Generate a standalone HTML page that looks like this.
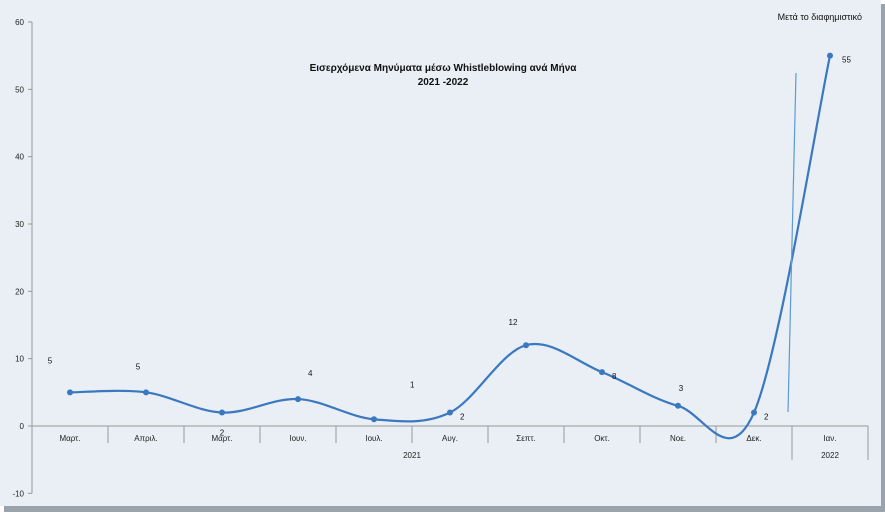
<!DOCTYPE html>
<html><head><meta charset="utf-8"><style>
html,body{margin:0;padding:0;background:#fff}
svg{display:block;font-family:"Liberation Sans",sans-serif}
</style></head><body>
<svg width="885" height="512">
<rect x="4" y="4" width="881" height="508" fill="#9aa3ab"/>
<rect x="0" y="0" width="881" height="506" fill="#e9eff5"/>
<g id="axes"></g>
<g id="marks"></g>
<text x="443" y="71" text-anchor="middle" font-size="10" font-weight="bold" fill="#111">Εισερχόμενα Μηνύματα μέσω Whistleblowing ανά Μήνα</text>
<text x="443" y="85" text-anchor="middle" font-size="10" font-weight="bold" fill="#111">2021 -2022</text>
<text x="862" y="20" text-anchor="end" font-size="9" fill="#111">Μετά το διαφημιστικό</text>
<line x1="796" y1="73" x2="788" y2="412" stroke="#5b9bd5" stroke-width="1.2"/>
</svg>
<script>
const categories=["Μαρτ.","Απριλ.","Μαρτ.","Ιουν.","Ιουλ.","Αυγ.","Σεπτ.","Οκτ.","Νοε.","Δεκ.","Ιαν."];
const values=[5,5,2,4,1,2,12,8,3,2,55];
const yTicks=[-10,0,10,20,30,40,50,60];
const years=["2021","2022"];
const yearSpans=[10,1];
const labelOffsets=[[-20,-32],[-8,-26],[0,20],[10,-26],[36,-35],[10,4],[-13,-23],[10,4],[3,-18],[10,4],[12,4]];
const NS="http://www.w3.org/2000/svg";
const x0=32,x1=868,y60=22,y0=426;
const bw=(x1-x0)/categories.length;
const X=i=>x0+bw*(i+0.5);
const Y=v=>y0-(v)*(y0-y60)/60;
function mk(t,a,p){const e=document.createElementNS(NS,t);for(const k in a)e.setAttribute(k,a[k]);p.appendChild(e);return e;}
const ax=document.getElementById('axes'),mg=document.getElementById('marks');
let e=mk('line',{x1:x0,y1:Y(60),x2:x0,y2:Y(-10),stroke:'#999'},ax);


yTicks.forEach(t=>{
 let l=mk('line',{x1:x0-4,y1:Y(t),x2:x0,y2:Y(t),stroke:'#999'},ax);
 
 
 let tx=mk('text',{x:x0-8,y:Y(t)+3,'text-anchor':'end','font-size':8,fill:'#222'},ax);tx.textContent=t;
 
 
});
e=mk('line',{x1:x0,y1:y0,x2:x1,y2:y0,stroke:'#999'},ax);


for(let i=0;i<=categories.length;i++){
 const xx=x0+bw*i;
 if(i==0)continue;
 let l=mk('line',{x1:xx,y1:y0,x2:xx,y2:443,stroke:'#999'},ax);
 
 
}
categories.forEach((c,i)=>{
 let t=mk('text',{x:X(i),y:441,'text-anchor':'middle','font-size':8,fill:'#222'},ax);t.textContent=c;
 
 
});
let start=0;
years.forEach((yr,k)=>{
 const xs=x0+bw*start,xe=x0+bw*(start+yearSpans[k]);
 let l=mk('line',{x1:xe,y1:y0,x2:xe,y2:460,stroke:'#999'},ax);
 
 
 let t=mk('text',{x:(xs+xe)/2,y:458,'text-anchor':'middle','font-size':8,fill:'#222'},ax);t.textContent=yr;
 
 
 start+=yearSpans[k];
});
const pts=values.map((v,i)=>[X(i),Y(v)]);
let d=`M${pts[0][0]},${pts[0][1]}`;
for(let i=0;i<pts.length-1;i++){
 const p0=pts[Math.max(0,i-1)],p1=pts[i],p2=pts[i+1],p3=pts[Math.min(pts.length-1,i+2)];
 const s=1/6;
 d+=` C${p1[0]+(p2[0]-p0[0])*s},${p1[1]+(p2[1]-p0[1])*s} ${p2[0]-(p3[0]-p1[0])*s},${p2[1]-(p3[1]-p1[1])*s} ${p2[0]},${p2[1]}`;
}
e=mk('path',{d:d,fill:'none',stroke:'#3a78c0','stroke-width':2.2},mg);


pts.forEach((p,i)=>{
 let c=mk('circle',{cx:p[0],cy:p[1],r:3,fill:'#3a78c0'},mg);
 
 
 let t=mk('text',{x:p[0]+labelOffsets[i][0],y:p[1]+labelOffsets[i][1]+3,'font-size':8,fill:'#111','text-anchor':labelOffsets[i][0]>=8?'start':'middle'},mg);
 t.textContent=values[i];
 
 
});
</script>
</body></html>
